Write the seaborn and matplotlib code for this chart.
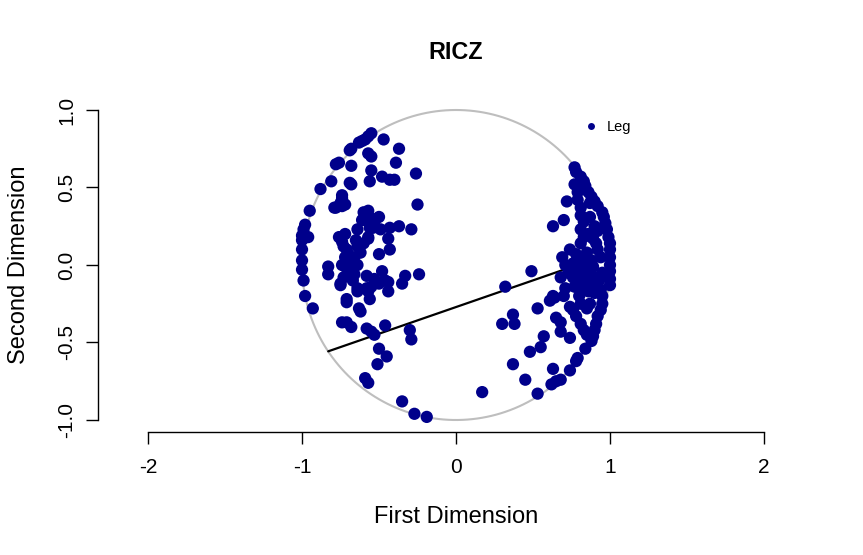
import numpy as np
import pandas as pd
import seaborn as sns
import matplotlib
matplotlib.use('Agg')
import matplotlib.pyplot as plt
from matplotlib.lines import Line2D

# coordenadas de los legisladores (primera y segunda dimension)
izq_x = [-0.55, -0.57, -0.59, -0.61, -0.63, -0.47, -0.37, -0.69, -0.68, -0.57, -0.55, -0.39,
         -0.76, -0.78, -0.68, -0.55, -0.48, -0.43, -0.40, -0.26, -0.81, -0.69, -0.68, -0.56,
         -0.88, -0.74, -0.74, -0.75, -0.78, -0.72, -0.25, -0.95, -0.60, -0.57, -0.61, -0.55,
         -0.50, -0.79, -0.98, -0.99, -1.00, -1.00, -0.96, -1.00, -1.00, -1.00, -0.99, -0.98,
         -0.93, -0.64, -0.56, -0.49, -0.43, -0.37, -0.44, -0.29, -0.76, -0.74, -0.73, -0.71,
         -0.72, -0.70, -0.72, -0.69, -0.73, -0.67, -0.68, -0.64, -0.60, -0.57, -0.50, -0.43,
         -0.64, -0.83, -0.83, -0.75, -0.58, -0.53, -0.48, -0.50, -0.55, -0.57, -0.44, -0.44,
         -0.33, -0.35, -0.24, -0.64, -0.71, -0.71, -0.56, -0.63, -0.62, -0.74, -0.71, -0.68,
         -0.58, -0.55, -0.53, -0.46, -0.30, -0.29, -0.50, -0.45, -0.51, -0.59, -0.57, -0.35,
         -0.27, -0.19, -0.74, -0.59, -0.53, -0.54, -0.57, -0.75, -0.64, -0.58, -0.46, -0.70,
         -0.66, -0.74, -0.70, -0.66, -0.62, -0.65, -0.72]
izq_y = [0.85, 0.83, 0.81, 0.80, 0.79, 0.81, 0.75, 0.74, 0.75, 0.72, 0.70, 0.66,
         0.66, 0.65, 0.64, 0.61, 0.57, 0.55, 0.55, 0.59, 0.54, 0.53, 0.52, 0.54,
         0.49, 0.45, 0.43, 0.40, 0.37, 0.39, 0.39, 0.35, 0.34, 0.35, 0.29, 0.30,
         0.31, 0.37, 0.26, 0.23, 0.19, 0.16, 0.18, 0.10, 0.03, -0.03, -0.10, -0.20,
         -0.28, 0.23, 0.24, 0.23, 0.24, 0.25, 0.17, 0.23, 0.18, 0.15, 0.12, 0.10,
         0.05, 0.03, -0.01, -0.05, -0.08, -0.10, -0.01, 0.12, 0.14, 0.18, 0.07, 0.10,
         0.00, -0.01, -0.06, -0.12, -0.07, -0.09, -0.04, -0.12, -0.14, -0.17, -0.11, -0.17,
         -0.07, -0.12, -0.06, -0.17, -0.22, -0.24, -0.22, -0.28, -0.30, -0.37, -0.37, -0.40,
         -0.41, -0.43, -0.45, -0.39, -0.42, -0.48, -0.54, -0.59, -0.64, -0.73, -0.76, -0.88,
         -0.96, -0.98, 0.38, 0.29, 0.28, 0.24, 0.17, -0.13, -0.15, -0.15, -0.10, 0.07,
         0.05, 0.00, -0.03, -0.06, 0.08, 0.16, 0.20]

centro_x = [0.17, 0.32, 0.30, 0.37, 0.38, 0.49, 0.53, 0.37, 0.45, 0.48, 0.55, 0.57, 0.53]
centro_y = [-0.82, -0.14, -0.38, -0.32, -0.38, -0.04, -0.28, -0.64, -0.74, -0.56, -0.53, -0.46, -0.83]

der_x = [0.63, 0.70, 0.72, 0.77, 0.78, 0.81, 0.83, 0.84, 0.86, 0.88, 0.90, 0.92, 0.95,
         0.96, 0.97, 0.98, 0.99, 1.00, 1.00, 1.00, 1.00, 1.00, 1.00, 1.00, 0.77, 0.79,
         0.79, 0.81, 0.81, 0.83, 0.81, 0.83, 0.81, 0.87, 0.90, 0.89, 0.92, 0.74, 0.69,
         0.71, 0.76, 0.81, 0.85, 0.89, 0.78, 0.83, 0.87, 0.91, 0.76, 0.81, 0.85, 0.89,
         0.77, 0.82, 0.86, 0.90, 0.81, 0.85, 0.88, 0.68, 0.71, 0.70, 0.63, 0.61, 0.81,
         0.87, 0.85, 0.94, 0.95, 0.95, 0.94, 0.92, 0.91, 0.90, 0.89, 0.88, 0.76, 0.78,
         0.81, 0.83, 0.85, 0.74, 0.65, 0.68, 0.68, 0.74, 0.84, 0.79, 0.78, 0.74, 0.68,
         0.65, 0.62, 0.63, 0.86, 0.92, 0.94, 0.95, 0.93, 0.78, 0.73, 0.84, 0.80, 0.91,
         0.87, 0.80, 0.73, 0.64]
der_y = [0.25, 0.29, 0.41, 0.63, 0.60, 0.57, 0.54, 0.51, 0.47, 0.44, 0.41, 0.38, 0.34,
         0.31, 0.27, 0.23, 0.18, 0.14, 0.10, 0.05, 0.00, -0.04, -0.09, -0.13, 0.52, 0.47,
         0.42, 0.37, 0.32, 0.28, 0.23, 0.18, 0.14, 0.31, 0.25, 0.17, 0.10, 0.10, 0.05,
         0.00, 0.01, 0.03, 0.01, -0.01, -0.03, -0.04, -0.05, -0.08, -0.08, -0.10, -0.11, -0.12,
         -0.14, -0.16, -0.17, -0.18, -0.01, 0.08, 0.03, -0.08, -0.15, -0.20, -0.20, -0.23, -0.25,
         -0.25, -0.28, -0.16, -0.20, -0.25, -0.29, -0.33, -0.38, -0.42, -0.46, -0.49, -0.29, -0.33,
         -0.38, -0.42, -0.45, -0.27, -0.34, -0.37, -0.43, -0.47, -0.54, -0.60, -0.62, -0.68, -0.74,
         -0.75, -0.77, -0.67, 0.20, 0.22, 0.05, -0.05, -0.10, 0.07, -0.05, -0.07, -0.20, 0.14,
         0.40, 0.50, -0.02, -0.21]

# linea de corte
corte_x = [-0.83, 0.98]
corte_y = [-0.557, 0.066]

df = pd.DataFrame({
    'dim1': izq_x + centro_x + der_x,
    'dim2': izq_y + centro_y + der_y,
})

sns.set_style('white')
plt.rcParams['font.family'] = ['Liberation Sans', 'DejaVu Sans']
plt.rcParams['text.color'] = 'black'
plt.rcParams['axes.labelcolor'] = 'black'
plt.rcParams['xtick.color'] = 'black'
plt.rcParams['ytick.color'] = 'black'

fig = plt.figure(figsize=(8.63, 5.55), dpi=100)
ax = fig.add_axes([98 / 863, 1 - 432.4 / 555, 716 / 863, 334.8 / 555])

t = np.linspace(0, 2 * np.pi, 400)
ax.plot(np.cos(t), np.sin(t), color='#BEBEBE', lw=1.5, zorder=1)

sns.scatterplot(data=df, x='dim1', y='dim2', color='#00008B', s=78,
                edgecolor='none', linewidth=0, ax=ax, zorder=3)
ax.plot(corte_x, corte_y, color='black', lw=1.6, zorder=2)

ax.set_xlim(-2.325, 2.325)
ax.set_ylim(-1.08, 1.08)
ax.set_xticks([-2, -1, 0, 1, 2])
ax.set_yticks([-1.0, -0.5, 0.0, 0.5, 1.0])
ax.set_xticklabels(['-2', '-1', '0', '1', '2'])
ax.set_yticklabels(['-1.0', '-0.5', '0.0', '0.5', '1.0'])

for lado in ['top', 'right']:
    ax.spines[lado].set_visible(False)
ax.spines['left'].set_bounds(-1, 1)
ax.spines['bottom'].set_bounds(-2, 2)
for lado in ['left', 'bottom']:
    ax.spines[lado].set_color('black')
    ax.spines[lado].set_linewidth(1.0)
ax.tick_params(axis='both', direction='out', length=8.6, width=1.0, color='black',
               labelcolor='black', labelsize=15, left=True, bottom=True)
ax.tick_params(axis='x', pad=10)
ax.tick_params(axis='y', pad=7, labelrotation=90)
for lab in ax.get_yticklabels():
    lab.set_verticalalignment('center')

ax.set_xlabel('First Dimension', fontsize=17)
ax.set_ylabel('Second Dimension', fontsize=17)
ax.xaxis.set_label_coords(0.5, -0.22)
ax.yaxis.set_label_coords(-0.095, 0.5)
ax.set_title('RICZ', fontsize=16.8, fontweight='bold', y=1.09)

marca = Line2D([0], [0], marker='o', color='none', markerfacecolor='#00008B',
               markeredgecolor='none', markersize=5)
ax.legend([marca], ['Leg'], loc='center left', bbox_to_anchor=(0.658, 0.912),
          frameon=False, fontsize=10.5, handletextpad=0.5, handlelength=1.2)

fig.savefig('out.png', dpi=100)
